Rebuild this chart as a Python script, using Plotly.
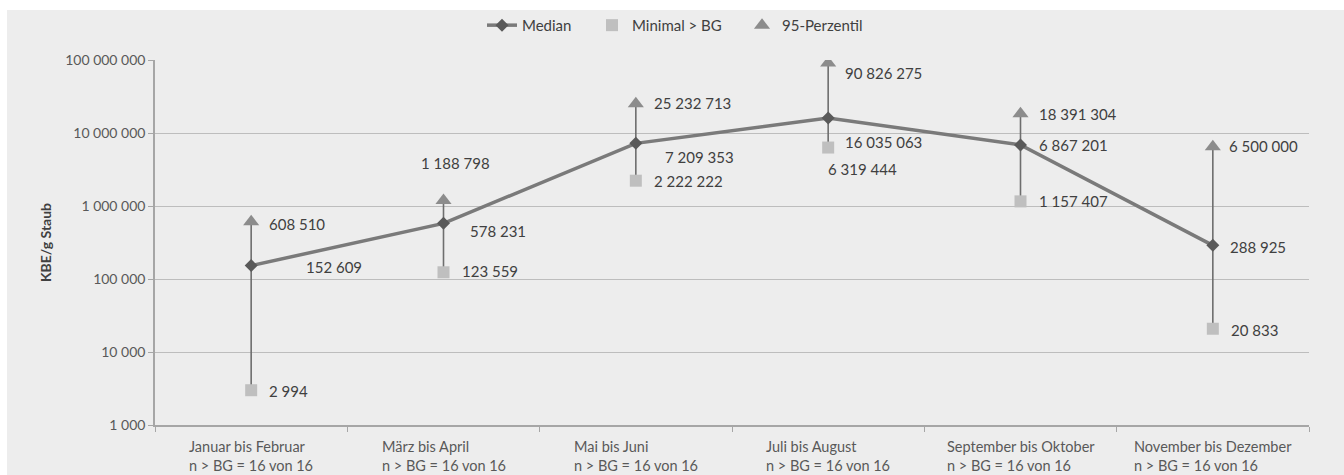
import math
import plotly.graph_objects as go

# Zeiträume (Kategorien) und Stichprobenangabe
periods = [
    "Januar bis Februar",
    "März bis April",
    "Mai bis Juni",
    "Juli bis August",
    "September bis Oktober",
    "November bis Dezember",
]
sample_note = ["n > BG = 16 von 16"] * 6

# Messwerte in KBE/g Staub
median = [152609, 578231, 7209353, 16035063, 6867201, 288925]
minimal = [2994, 123559, 2222222, 6319444, 1157407, 20833]
p95 = [608510, 1188798, 25232713, 90826275, 18391304, 6500000]

# y-Achse (logarithmisch)
y_tickvals = [1e3, 1e4, 1e5, 1e6, 1e7, 1e8]
y_ticktext = ["1 000", "10 000", "100 000", "1 000 000", "10 000 000", "100 000 000"]

x = list(range(len(periods)))

BG = "#EDEDED"
AXIS = "#A6A6A6"
TICK_FONT = dict(family="Lato", size=14, color="#595959")
LABEL_FONT = dict(family="Lato", size=15, color="#404040")
LEGEND_FONT = dict(family="Lato", size=15, color="#404040")


def fmt(v):
    return f"{v:,}".replace(",", " ")


fig = go.Figure()

# Spannweite Minimum bis 95-Perzentil als senkrechte Linie
fig.add_trace(go.Scatter(
    x=x, y=median, mode="markers",
    marker=dict(size=1, opacity=0),
    error_y=dict(
        type="data", symmetric=False,
        array=[p - m for p, m in zip(p95, median)],
        arrayminus=[m - n for m, n in zip(median, minimal)],
        color="#6E6E6E", thickness=1.6, width=0,
    ),
    showlegend=False, hoverinfo="skip",
))

fig.add_trace(go.Scatter(
    x=x, y=median, mode="lines+markers", name="Median",
    line=dict(color="#7A7A7A", width=3.5),
    marker=dict(symbol="diamond", size=10, color="#595959"),
    legend="legend",
))
fig.add_trace(go.Scatter(
    x=x, y=minimal, mode="markers", name="Minimal > BG",
    marker=dict(symbol="square", size=12, color="#BFBFBF"),
    legend="legend2",
))
fig.add_trace(go.Scatter(
    x=x, y=p95, mode="markers", name="95-Perzentil",
    marker=dict(symbol="triangle-up", size=14, color="#8C8C8C"),
    legend="legend3",
))

# Datenbeschriftungen: (xshift, yshift) je Punkt
median_off = [(53, -1), (24, -8), (27, -14), (15, -24), (16, 0), (15, -2)]
min_off = [(16, -1), (16, 1), (16, 0), (-2, -21), (16, 0), (16, -1)]
p95_off = [(16, -2), (-25, 38), (16, 1), (15, -10), (16, 0), (14, 1)]

annotations = []
for series, offs in ((median, median_off), (minimal, min_off), (p95, p95_off)):
    for i, (v, (dx, dy)) in enumerate(zip(series, offs)):
        annotations.append(dict(
            x=i, y=math.log10(v), xref="x", yref="y",
            text=fmt(v), showarrow=False,
            xanchor="left", yanchor="middle",
            xshift=dx, yshift=dy, font=LABEL_FONT,
        ))

# Kategorienbeschriftung unter der x-Achse
for i, (p, n) in enumerate(zip(periods, sample_note)):
    annotations.append(dict(
        x=i, y=0, xref="x", yref="paper",
        text=f"{p}<br>{n}", showarrow=False, align="left",
        xanchor="center", yanchor="top", yshift=-11,
        font=dict(family="Lato", size=14.5, color="#595959"),
    ))


def legend_at(px):
    return dict(
        orientation="h", x=(px - 155) / 1154, y=1.14,
        xanchor="left", yanchor="top",
        bgcolor="rgba(0,0,0,0)", font=LEGEND_FONT, itemwidth=30,
    )


fig.update_layout(
    width=1344, height=475,
    margin=dict(l=155, r=35, t=60, b=50, autoexpand=False),
    paper_bgcolor="white", plot_bgcolor=BG,
    font=dict(family="Lato", color="#595959"),
    showlegend=True,
    legend=legend_at(482),
    legend2=legend_at(592),
    legend3=legend_at(742),
    xaxis=dict(
        range=[-0.5, len(periods) - 0.5],
        tickvals=[i - 0.5 for i in range(len(periods) + 1)],
        showticklabels=False, ticks="outside", ticklen=5, tickcolor=AXIS,
        showgrid=False, zeroline=False,
        showline=True, linecolor=AXIS, linewidth=1.5,
    ),
    yaxis=dict(
        type="log", range=[3, 8],
        tickvals=y_tickvals, ticktext=y_ticktext, tickfont=TICK_FONT,
        ticks="outside", ticklen=5, tickcolor=AXIS,
        showgrid=True, gridcolor="#BDBDBD", gridwidth=1.3,
        showline=True, linecolor=AXIS, linewidth=1.5, zeroline=False,
        title=dict(text="<b>KBE/g Staub</b>", font=dict(family="Lato", size=14, color="#404040"), standoff=10),
    ),
    annotations=annotations,
    shapes=[dict(
        type="rect", xref="paper", yref="paper", layer="below",
        x0=(7 - 155) / 1154, x1=(1344 - 155) / 1154,
        y0=(425 - 475) / 365, y1=(425 - 10) / 365,
        fillcolor=BG, line=dict(width=0),
    )],
)

fig.write_html("out.html")
